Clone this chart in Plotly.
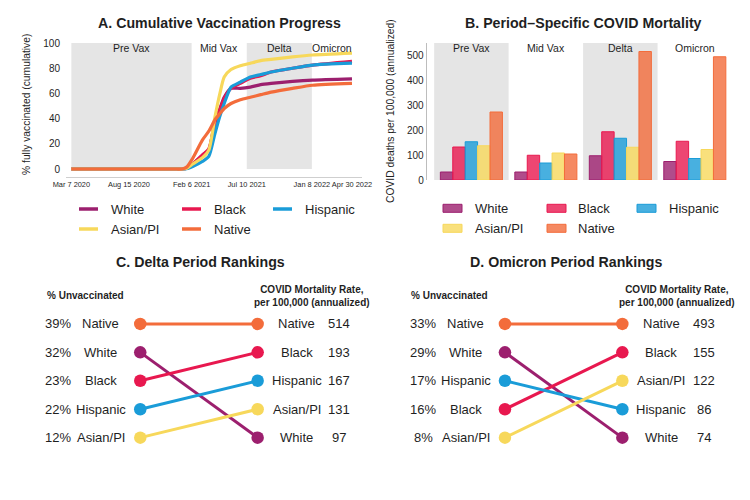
import pandas as pd
import plotly.graph_objects as go

# the page body keeps its 8px default margin, so the figure is drawn 8px in
# and all positions below are given in window pixels
OFF = 8
W, H = 750 - OFF, 500 - 2 * OFF
FONT = "Liberation Sans, Arial, Helvetica, sans-serif"
INK = "#1f1f1f"

groups = ["White", "Black", "Hispanic", "Asian/PI", "Native"]
colors = ["#9c1f6e", "#e8184f", "#1a9cd8", "#f7d85b", "#f36c3b"]

# A. cumulative % fully vaccinated
vax_dates = ["2020-03-07", "2020-12-26", "2021-01-09", "2021-01-23", "2021-02-09",
             "2021-03-08", "2021-03-26", "2021-04-12", "2021-04-26", "2021-05-08",
             "2021-05-27", "2021-06-22", "2021-07-20", "2021-08-18", "2021-09-16",
             "2021-11-15", "2022-01-10", "2022-04-30"]
vax_white = [0, 0, 0, 0.5, 4, 11, 15, 38, 48, 57, 64, 64, 65, 67, 68, 69.5, 70.5, 71.5]
vax_black = [0, 0, 0, 0.5, 4, 11, 16, 36, 47, 56, 64, 68, 72, 74, 77, 80, 82.5, 85.5]
vax_hispanic = [0, 0, 0, 0.3, 2, 6, 10, 28, 42, 52, 65, 69, 73, 75, 77, 80, 82.5, 84]
vax_asian = [0, 0, 0, 0.5, 4, 9, 15, 41, 60, 73, 79, 82, 84, 86, 87, 89, 90.5, 92]
vax_native = [0, 0, 0, 1.5, 8.5, 23, 30, 39, 44, 48, 52, 55, 57, 59, 61, 64, 66.5, 68]

period_names = ["Pre Vax", "Mid Vax", "Delta", "Omicron"]
period_edges = ["2020-03-07", "2021-02-06", "2021-07-10", "2022-01-08", "2022-04-30"]
date_tickvals = ["2020-03-07", "2020-08-15", "2021-02-06", "2021-07-10", "2022-01-08", "2022-04-30"]
date_ticktext = ["Mar 7 2020", "Aug 15 2020", "Feb 6 2021", "Jul 10 2021", "Jan 8 2022", "Apr 30 2022"]

# B. period-specific mortality per 100,000 (annualized)
mort_white = [32, 32, 97, 74]
mort_black = [132, 99, 193, 155]
mort_hispanic = [153, 68, 167, 86]
mort_asian = [137, 108, 131, 122]
mort_native = [272, 104, 514, 493]

# C/D. % unvaccinated per period
delta_unvax = [32, 23, 22, 12, 39]
omicron_unvax = [29, 16, 17, 8, 33]

vax = [vax_white, vax_black, vax_hispanic, vax_asian, vax_native]
mort = [mort_white, mort_black, mort_hispanic, mort_asian, mort_native]


def px(x):
    return (x - OFF) / W


def py(y):
    return 1 - (y - OFF) / H


def rgba(hexc, a):
    h = hexc.lstrip("#")
    return "rgba(%d,%d,%d,%s)" % (int(h[0:2], 16), int(h[2:4], 16), int(h[4:6], 16), a)


def ranks(vals):
    order = sorted(range(len(vals)), key=lambda i: -vals[i])
    r = [0] * len(vals)
    for k, i in enumerate(order):
        r[i] = k + 1
    return r


fig = go.Figure()
ann = []
shapes = []


def text(s, x, y, size, xref="paper", yref="paper", bold=False, xanchor="center", angle=0):
    ann.append(dict(text="<b>%s</b>" % s if bold else s, x=x, y=y, xref=xref, yref=yref,
                    showarrow=False, xanchor=xanchor, yanchor="middle", textangle=angle,
                    font=dict(family=FONT, size=size, color=INK)))


# ---- A
for i in (0, 2):
    shapes.append(dict(type="rect", xref="x", yref="y", x0=period_edges[i], x1=period_edges[i + 1],
                       y0=0, y1=100, fillcolor="#e5e5e5", line_width=0, layer="below"))
edges = pd.to_datetime(period_edges)
for i, name in enumerate(period_names):
    mid = edges[i] + (edges[i + 1] - edges[i]) / 2
    text(name, mid.strftime("%Y-%m-%d"), 96.3, 10.5, xref="x", yref="y")

for g, c, v in zip(groups, colors, vax):
    fig.add_trace(go.Scatter(x=vax_dates, y=v, mode="lines", name=g, showlegend=False,
                             line=dict(color=c, width=3.2, shape="spline", smoothing=0.6),
                             xaxis="x", yaxis="y"))

text("<b>A. Cumulative Vaccination Progress</b>", px(219), py(23), 14.2)
text("% fully vaccinated (cumulative)", px(27), py(105), 10.3, angle=-90)

# ---- B
for i in (0, 2):
    shapes.append(dict(type="rect", xref="x2", yref="y2 domain", x0=i - 0.5, x1=i + 0.5,
                       y0=0, y1=1, fillcolor="#e5e5e5", line_width=0, layer="below"))
for i, name in enumerate(period_names):
    text(name, i, 529, 10.5, xref="x2", yref="y2")

for g, c, v in zip(groups, colors, mort):
    fig.add_trace(go.Bar(x=period_names, y=v, name=g, showlegend=False,
                         marker=dict(color=rgba(c, 0.8), line=dict(color=c, width=1)),
                         xaxis="x2", yaxis="y2"))

text("<b>B. Period\u2013Specific COVID Mortality</b>", px(583), py(23), 14.2)
text("COVID deaths per 100,000 (annualized)", px(390), py(111), 10.3, angle=-90)

# ---- legends (A: lines, B: boxes)
col_sw = [[79, 182, 273], [443, 547, 637]]
col_tx = [[109, 211.7, 302.7], [472.7, 576, 666.7]]
rows_y = [[209, 229], [208.3, 228.3]]
for p in range(2):
    for k, (g, c) in enumerate(zip(groups, colors)):
        r, col = divmod(k, 3)
        x0 = col_sw[p][col]
        y0 = rows_y[p][r]
        if p == 0:
            shapes.append(dict(type="line", xref="paper", yref="paper", x0=px(x0), x1=px(x0 + 19),
                               y0=py(y0), y1=py(y0), line=dict(color=c, width=3.5)))
        else:
            shapes.append(dict(type="rect", xref="paper", yref="paper", x0=px(x0), x1=px(x0 + 19),
                               y0=py(y0 - 4), y1=py(y0 + 4), fillcolor=rgba(c, 0.8),
                               line=dict(color=c, width=1)))
        text(g, px(col_tx[p][col]), py(y0), 13, xanchor="left")

# ---- C / D slope rankings
panels = [("x3", "y3", delta_unvax, [m[2] for m in mort], "C. Delta Period Rankings", 200),
          ("x4", "y4", omicron_unvax, [m[3] for m in mort], "D. Omicron Period Rankings", 565.7)]
for xa, ya, unvax, mrate, title, tx in panels:
    lr = ranks(unvax)
    rr = ranks(mrate)
    for g, c, a, b in zip(groups, colors, lr, rr):
        fig.add_trace(go.Scatter(x=[0, 1], y=[a, b], mode="lines+markers", showlegend=False,
                                 line=dict(color=c, width=3), marker=dict(color=c, size=12.5),
                                 xaxis=xa, yaxis=ya, hoverinfo="skip"))
    for g, u, m, a, b in zip(groups, unvax, mrate, lr, rr):
        text("%d%%" % u, -0.697, a, 13, xref=xa, yref=ya)
        text(g, -0.335, a, 13, xref=xa, yref=ya)
        text(g, 1.333, b, 13, xref=xa, yref=ya)
        text(str(m), 1.697, b, 13, xref=xa, yref=ya)
    text("% Unvaccinated", -0.47, 0.0, 10, xref=xa, yref=ya, bold=True)
    text("<b>COVID Mortality Rate,<br>per 100,000 (annualized)</b>", 1.465, 0.03, 10, xref=xa, yref=ya)
    text("<b>%s</b>" % title, px(tx), py(262), 14.2)

hidden = dict(visible=False, automargin=False)
fig.update_layout(
    template="none",
    width=W, height=H, margin=dict(l=0, r=0, t=0, b=0, autoexpand=False),
    paper_bgcolor="white", plot_bgcolor="white",
    font=dict(family=FONT, color=INK),
    barmode="group", bargap=0.167, bargroupgap=0,
    annotations=ann, shapes=shapes, showlegend=False,
    xaxis=dict(domain=[px(66), px(362)], type="date", range=["2020-02-21", "2022-05-28"],
               tickvals=date_tickvals, ticktext=date_ticktext, tickfont=dict(size=7.4, color=INK),
               tickangle=0, showline=True, linecolor="#cfcfcf", linewidth=1, ticks="",
               showgrid=False, zeroline=False, anchor="y", automargin=False),
    yaxis=dict(domain=[py(177.2), py(36.1)], range=[-6.5, 105.5], tickvals=[0, 20, 40, 60, 80, 100],
               tickfont=dict(size=10, color=INK), showgrid=False, zeroline=False, showline=False,
               ticks="", ticklabelstandoff=5, anchor="x", automargin=False),
    xaxis2=dict(domain=[px(426.7), px(739.5)], range=[-0.6, 3.6], type="category",
                showticklabels=False, showline=False, showgrid=False, zeroline=False,
                ticks="", anchor="y2", automargin=False),
    yaxis2=dict(domain=[py(180), py(43)], range=[0, 548], tickvals=[0, 100, 200, 300, 400, 500],
                tickfont=dict(size=10, color=INK), showgrid=False, zeroline=False,
                showline=True, linecolor="#bdbdbd", linewidth=1, ticks="",
                ticklabelstandoff=0, anchor="x2", automargin=False),
    xaxis3=dict(domain=[px(34.6), px(363.3)], range=[-0.9, 1.9], anchor="y3", **hidden),
    yaxis3=dict(domain=[py(480), py(250)], range=[6.49, -1.6], anchor="x3", **hidden),
    xaxis4=dict(domain=[px(399.3), px(728)], range=[-0.9, 1.9], anchor="y4", **hidden),
    yaxis4=dict(domain=[py(480), py(250)], range=[6.49, -1.6], anchor="x4", **hidden),
)

fig.write_html("out.html")
